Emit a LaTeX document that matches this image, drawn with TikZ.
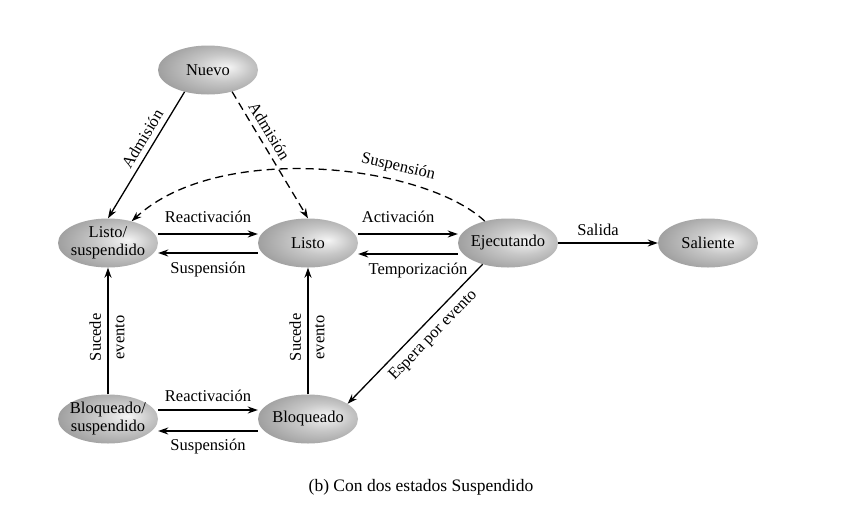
\documentclass[tikz,border=0pt]{standalone}
\usepackage{fontspec}
\setmainfont{Liberation Serif}
\usetikzlibrary{shapes.geometric, arrows.meta}
\pgfdeclareradialshading{estadoshade}{\pgfpoint{10bp}{3bp}}%
  {color(0bp)=(black!4); color(14bp)=(black!22); color(34bp)=(black!42); color(52bp)=(black!58)}
\tikzset{
  estado/.style={ellipse, shade, shading=estadoshade, minimum width=100pt, minimum height=49pt,
    inner xsep=-5pt, inner ysep=-8pt, align=center, font=\fontsize{16.5}{18}\selectfont},
  flecha/.style={-{Stealth[length=10pt,width=7pt]}, line width=1.3pt},
  rayas/.style={dash pattern=on 8pt off 5pt},
  etiqueta/.style={font=\fontsize{16.5}{18}\selectfont}
}

\begin{document}
\begin{tikzpicture}[x=1pt, y=-1pt]
  \useasboundingbox (0,0) rectangle (852,507);
  % states
  \node[estado] (nuevo) at (208,70) {Nuevo};
  \node[estado] (lsusp) at (108,243) {Listo/\\suspendido};
  \node[estado] (listo) at (308,243) {Listo};
  \node[estado] (ejec) at (508,243) {Ejecutando};
  \node[estado] (sal) at (708,243) {Saliente};
  \node[estado] (bsusp) at (108,419) {Bloqueado/\\suspendido};
  \node[estado] (bloq) at (308,419) {Bloqueado};
  % admission
  \draw[flecha] (nuevo.223) -- node[etiqueta, pos=0.42, sloped, above=2pt] {Admisión} (lsusp.north);
  \draw[flecha, rayas] (nuevo.318) -- node[etiqueta, pos=0.36, sloped, above=2pt] {Admisión} (listo.north);
  % suspension from running
  \draw[flecha, rayas] (ejec) .. controls (425,165) and (220,140) .. node[etiqueta, pos=0.31, sloped, above=2pt] {Suspensión} (lsusp);
  % middle row
  \draw[flecha] ([yshift=9pt]lsusp.east) -- node[etiqueta, above=7pt] {Reactivación} ([yshift=9pt]listo.west);
  \draw[flecha] ([yshift=-10pt]listo.west) -- node[etiqueta, below=5pt] {Suspensión} ([yshift=-10pt]lsusp.east);
  \draw[flecha] ([yshift=9pt]listo.east) -- node[etiqueta, pos=0.4, above=7pt] {Activación} ([yshift=9pt]ejec.west);
  \draw[flecha] ([yshift=-11pt]ejec.west) -- node[etiqueta, pos=0.4, below=5pt] {Temporización} ([yshift=-11pt]listo.east);
  \draw[flecha] (ejec.east) -- node[etiqueta, pos=0.4, above=3pt] {Salida} (sal.west);
  % events
  \draw[flecha] (bsusp.north) -- node[etiqueta, pos=0.45, sloped, above=3pt] {Sucede}
    node[etiqueta, pos=0.45, sloped, below=3pt] {evento} (lsusp.south);
  \draw[flecha] (bloq.north) -- node[etiqueta, pos=0.45, sloped, above=3pt] {Sucede}
    node[etiqueta, pos=0.45, sloped, below=3pt] {evento} (listo.south);
  \draw[flecha] (ejec.220) -- node[etiqueta, pos=0.44, sloped, below=3pt] {Espera por evento} (bloq.21);
  % bottom row
  \draw[flecha] ([yshift=9pt]bsusp.east) -- node[etiqueta, above=4pt] {Reactivación} ([yshift=9pt]bloq.west);
  \draw[flecha] ([yshift=-12pt]bloq.west) -- node[etiqueta, below=4pt] {Suspensión} ([yshift=-12pt]bsusp.east);
  % caption
  \node[font=\fontsize{17.5}{20}\selectfont] (pie) at (421,487) {(b) Con dos estados Suspendido};
\end{tikzpicture}
\end{document}
